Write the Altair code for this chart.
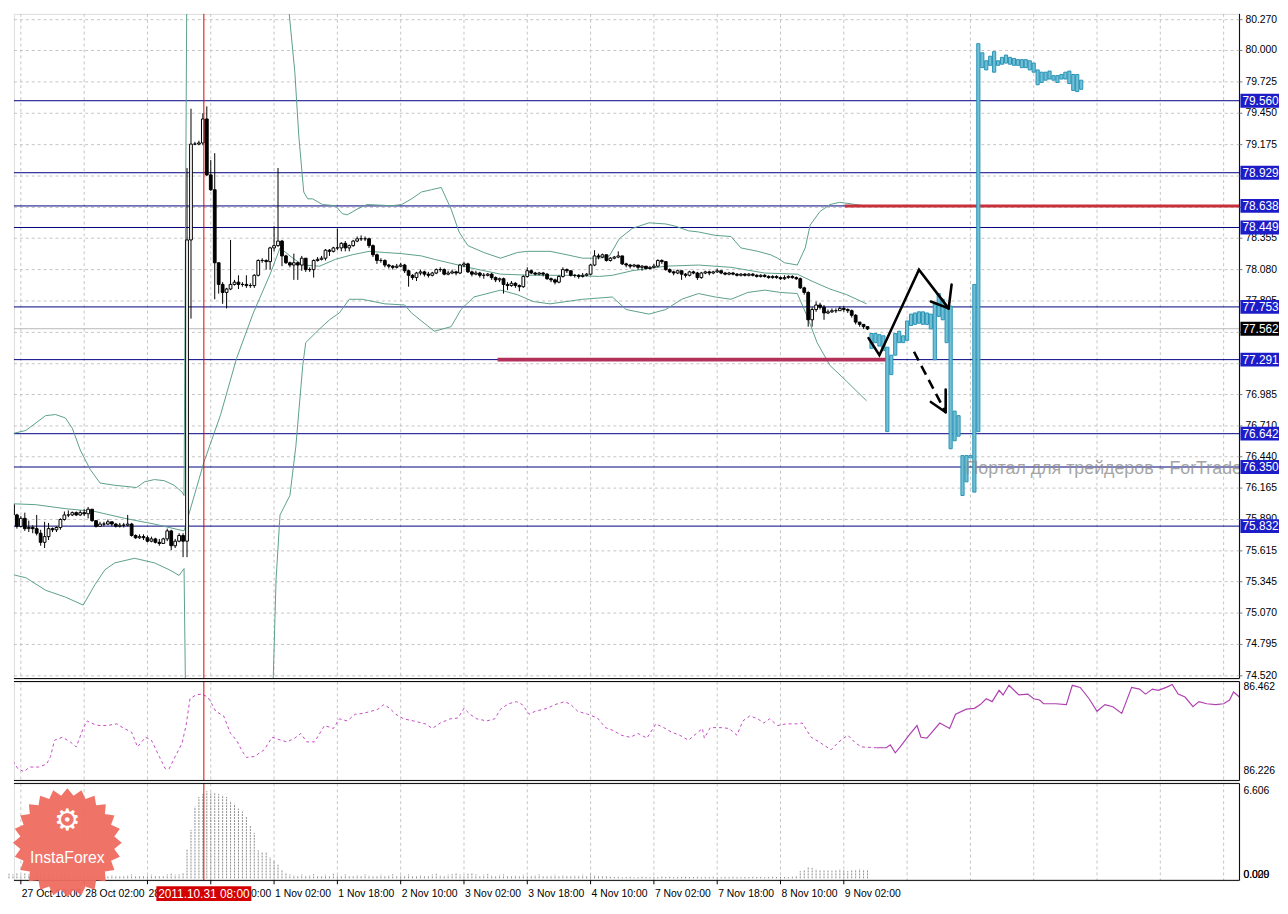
import math
import altair as alt
import pandas as pd

# ---------------- data (x = hourly bar number, y = price) ----------------
tick_bars = [3, 19, 35, 51, 67, 83, 99, 115, 131, 147, 163, 179, 195, 211]
tick_labels = ["27 Oct 10:00", "28 Oct 02:00", "28 Oct 18:00", "31 Oct 10:00",
               "1 Nov 02:00", "1 Nov 18:00", "2 Nov 10:00", "3 Nov 02:00",
               "3 Nov 18:00", "4 Nov 10:00", "7 Nov 02:00", "7 Nov 18:00",
               "8 Nov 10:00", "9 Nov 02:00"]
grid_bars = tick_bars + [227, 243, 259, 275, 291, 307]
price_ticks = [80.270, 80.000, 79.725, 79.450, 79.175, 78.900, 78.625, 78.355, 78.080,
               77.805, 77.530, 77.255, 76.985, 76.710, 76.440, 76.165, 75.890,
               75.615, 75.345, 75.070, 74.795, 74.520]
# tick labels that are fully covered by the level boxes in the original
covered_ticks = [78.900, 78.625, 77.530, 77.255]
level_prices = [79.560, 78.929, 78.638, 78.449, 77.753, 77.291, 76.642, 76.350, 75.832]
bid_price = 77.562
red_level, red_from, red_to = 78.638, 211.25, 311.0
crimson_level, crimson_from, crimson_to = 77.291, 123.5, 221.75
cross_bar = 49.25
cross_label = "2011.10.31 08:00"

first_open = 76.00
c_close = [
    76.02, 75.93, 75.83, 75.90, 75.81, 75.82, 75.81, 75.77, 75.69, 75.74,
    75.81, 75.80, 75.82, 75.89, 75.93, 75.93, 75.95, 75.93, 75.95, 75.94,
    75.98, 75.88, 75.83, 75.85, 75.85, 75.87, 75.85, 75.83, 75.84, 75.84,
    75.85, 75.75, 75.73, 75.74, 75.73, 75.70, 75.72, 75.69, 75.68, 75.72,
    75.79, 75.66, 75.70, 75.75, 75.70, 78.34, 79.18, 79.18, 79.19, 79.40,
    78.91, 78.78, 78.14, 77.95, 77.88, 77.91, 77.95, 77.97, 77.95, 77.95,
    77.94, 77.94, 78.03, 78.16, 78.16, 78.15, 78.27, 78.29, 78.33, 78.20,
    78.14, 78.12, 78.14, 78.12, 78.18, 78.08, 78.08, 78.16, 78.17, 78.18,
    78.25, 78.24, 78.27, 78.27, 78.31, 78.27, 78.29, 78.33, 78.35, 78.35,
    78.35, 78.29, 78.21, 78.16, 78.16, 78.12, 78.11, 78.10, 78.11, 78.12,
    78.07, 78.03, 78.01, 78.05, 78.06, 78.04, 78.03, 78.05, 78.08, 78.08,
    78.04, 78.05, 78.06, 78.05, 78.12, 78.13, 78.06, 78.04, 78.05, 78.03,
    78.03, 78.04, 78.01, 77.99, 78.00, 77.95, 77.94, 77.96, 77.94, 77.93,
    78.02, 78.07, 78.05, 78.04, 78.05, 78.04, 78.00, 77.99, 77.97, 78.02,
    78.08, 78.07, 78.03, 78.03, 78.02, 78.03, 78.04, 78.12, 78.20, 78.19,
    78.21, 78.16, 78.18, 78.19, 78.20, 78.13, 78.12, 78.11, 78.12, 78.10,
    78.11, 78.09, 78.10, 78.11, 78.16, 78.15, 78.08, 78.06, 78.05, 78.07,
    78.04, 78.03, 78.06, 78.05, 78.01, 78.05, 78.06, 78.05, 78.06, 78.07,
    78.05, 78.04, 78.05, 78.04, 78.03, 78.04, 78.03, 78.04, 78.03, 78.02,
    78.03, 78.02, 78.01, 78.02, 78.01, 78.00, 78.01, 78.02, 78.01, 78.00,
    77.92, 77.88, 77.64, 77.73, 77.77, 77.75, 77.70, 77.71, 77.72, 77.72,
    77.74, 77.73, 77.72, 77.68, 77.62, 77.60, 77.58, 77.56]
c_high = [
    76.26, 76.03, 75.94, 75.92, 75.95, 75.88, 75.84, 75.93, 75.80, 75.87,
    75.86, 75.82, 75.83, 75.90, 75.96, 75.97, 75.96, 75.96, 75.97, 75.98,
    76.00, 75.98, 75.88, 75.87, 75.87, 75.89, 75.87, 75.86, 75.86, 75.86,
    75.93, 75.86, 75.76, 75.76, 75.76, 75.75, 75.74, 75.73, 75.72, 75.73,
    75.81, 75.80, 75.72, 75.77, 75.77, 78.97, 79.49, 79.20, 79.21, 79.45,
    79.51, 79.04, 79.10, 78.14, 77.97, 77.92, 78.34, 77.99, 78.03, 77.97,
    78.03, 77.96, 78.04, 78.17, 78.18, 78.17, 78.28, 78.46, 78.97, 78.34,
    78.21, 78.15, 78.22, 78.15, 78.20, 78.18, 78.10, 78.17, 78.19, 78.20,
    78.26, 78.26, 78.28, 78.44, 78.32, 78.33, 78.30, 78.34, 78.37, 78.38,
    78.37, 78.36, 78.30, 78.22, 78.18, 78.17, 78.13, 78.12, 78.13, 78.14,
    78.13, 78.08, 78.04, 78.06, 78.08, 78.07, 78.06, 78.06, 78.09, 78.10,
    78.09, 78.07, 78.08, 78.07, 78.13, 78.15, 78.14, 78.07, 78.07, 78.06,
    78.05, 78.05, 78.05, 78.02, 78.01, 78.01, 77.97, 77.98, 77.97, 77.95,
    78.03, 78.10, 78.08, 78.06, 78.06, 78.06, 78.05, 78.01, 78.00, 78.03,
    78.10, 78.09, 78.07, 78.04, 78.04, 78.05, 78.05, 78.13, 78.25, 78.22,
    78.22, 78.21, 78.19, 78.20, 78.24, 78.20, 78.14, 78.13, 78.13, 78.12,
    78.12, 78.11, 78.11, 78.13, 78.17, 78.17, 78.15, 78.09, 78.07, 78.08,
    78.07, 78.05, 78.07, 78.07, 78.06, 78.06, 78.07, 78.07, 78.07, 78.09,
    78.07, 78.06, 78.06, 78.06, 78.05, 78.05, 78.05, 78.05, 78.05, 78.04,
    78.04, 78.04, 78.03, 78.03, 78.03, 78.02, 78.03, 78.03, 78.03, 78.02,
    78.01, 77.93, 77.89, 77.75, 77.80, 77.79, 77.77, 77.73, 77.74, 77.74,
    77.76, 77.76, 77.74, 77.73, 77.69, 77.62, 77.60, 77.58]
c_low = [
    75.92, 75.92, 75.81, 75.82, 75.79, 75.78, 75.77, 75.75, 75.66, 75.64,
    75.71, 75.78, 75.78, 75.80, 75.88, 75.91, 75.92, 75.92, 75.92, 75.92,
    75.90, 75.87, 75.82, 75.83, 75.83, 75.84, 75.83, 75.82, 75.82, 75.82,
    75.83, 75.74, 75.72, 75.72, 75.71, 75.69, 75.69, 75.68, 75.66, 75.70,
    75.70, 75.62, 75.64, 75.69, 75.56, 75.56, 77.65, 79.17, 79.17, 79.17,
    78.90, 78.77, 77.82, 77.87, 77.78, 77.74, 77.90, 77.94, 77.91, 77.93,
    77.92, 77.92, 77.92, 78.02, 78.14, 78.08, 78.08, 78.24, 78.28, 78.11,
    78.13, 78.10, 77.99, 77.99, 78.07, 78.06, 78.06, 78.01, 78.15, 78.16,
    78.16, 78.20, 78.23, 78.25, 78.24, 78.24, 78.24, 78.28, 78.32, 78.33,
    78.33, 78.27, 78.19, 78.13, 78.14, 78.10, 78.09, 78.08, 78.09, 78.10,
    78.05, 77.93, 77.99, 77.98, 78.03, 78.02, 78.01, 78.02, 78.04, 78.06,
    78.03, 78.03, 78.04, 78.03, 78.04, 78.10, 78.05, 78.02, 78.03, 78.01,
    78.00, 78.02, 77.99, 77.97, 77.97, 77.87, 77.90, 77.93, 77.92, 77.89,
    77.92, 78.01, 78.04, 78.03, 78.03, 78.02, 77.99, 77.97, 77.95, 77.96,
    78.01, 78.05, 78.02, 78.01, 78.00, 78.01, 78.02, 78.03, 78.11, 78.17,
    78.18, 78.15, 78.15, 78.17, 78.18, 78.12, 78.10, 78.09, 78.10, 78.08,
    78.07, 78.08, 78.08, 78.09, 78.10, 78.13, 78.07, 78.05, 78.03, 78.04,
    77.99, 78.01, 78.02, 78.04, 77.99, 78.00, 78.04, 78.03, 78.04, 78.05,
    78.04, 78.03, 78.03, 78.03, 78.02, 78.02, 78.02, 78.02, 78.02, 78.01,
    78.01, 78.01, 78.00, 78.00, 78.00, 77.99, 77.99, 78.00, 78.00, 77.99,
    77.91, 77.86, 77.58, 77.58, 77.71, 77.73, 77.64, 77.69, 77.70, 77.70,
    77.72, 77.71, 77.70, 77.66, 77.60, 77.58, 77.56, 77.55]

cyan_first_bar = 218
cyan_high = [
    77.52, 77.52, 77.51, 77.50, 77.40, 77.33, 77.52, 77.54, 77.50, 77.63,
    77.69, 77.70, 77.71, 77.71, 77.70, 77.69, 77.78, 77.87, 77.82, 77.74,
    77.76, 76.84, 76.80, 76.45, 76.45, 76.45, 77.95, 80.06, 79.98, 79.91,
    79.95, 79.99, 79.91, 79.94, 79.96, 79.94, 79.93, 79.92, 79.92, 79.92,
    79.91, 79.89, 79.83, 79.81, 79.81, 79.82, 79.78, 79.78, 79.79, 79.81,
    79.82, 79.79, 79.79, 79.74]
cyan_low = [
    77.39, 77.44, 77.41, 77.37, 76.66, 77.16, 77.33, 77.44, 77.44, 77.46,
    77.59, 77.60, 77.61, 77.60, 77.60, 77.56, 77.29, 77.67, 77.64, 77.44,
    76.51, 76.58, 76.62, 76.10, 76.22, 76.43, 76.13, 76.66, 79.85, 79.83,
    79.87, 79.81, 79.87, 79.88, 79.89, 79.88, 79.87, 79.87, 79.85, 79.85,
    79.83, 79.81, 79.70, 79.72, 79.74, 79.75, 79.74, 79.72, 79.75, 79.75,
    79.71, 79.65, 79.64, 79.66]

bb_up_bar = [-0.75, 4.25, 9.25, 11.75, 14.25, 16, 18, 20.5, 23, 26.75, 32.25, 34.25, 36.75,
             39.25, 41.75, 43.75, 44.25, 45, 50, 60, 68, 70.75, 72.25, 73.25, 74.5, 75.5,
             76.75, 79.25, 82.5, 84.25, 85.5, 88, 90.5, 96.75, 99.25, 101.75, 104.25,
             106.75, 109.25, 111.75, 113.75, 116, 120, 124.25, 128.5, 131, 136.75, 141,
             145, 149.25, 151.75, 154.25, 157.5, 161.75, 166, 168.5, 171.75, 174.25,
             178.5, 182.5, 185, 189.25, 192.5, 194.25, 196, 199.25, 201.25, 202.5, 205,
             207.5, 210, 216]
bb_up = [76.63, 76.67, 76.80, 76.81, 76.78, 76.69, 76.50, 76.33, 76.21, 76.19, 76.17, 76.22,
         76.24, 76.23, 76.19, 76.13, 76.10, 80.90, 81.30, 81.40, 81.20, 80.35, 79.81, 79.25,
         78.76, 78.70, 78.70, 78.65, 78.64, 78.57, 78.56, 78.61, 78.65, 78.64, 78.65, 78.70,
         78.76, 78.78, 78.80, 78.61, 78.41, 78.29, 78.23, 78.18, 78.23, 78.24, 78.24, 78.21,
         78.18, 78.18, 78.20, 78.35, 78.44, 78.49, 78.48, 78.46, 78.42, 78.41, 78.38, 78.37,
         78.27, 78.24, 78.21, 78.18, 78.14, 78.12, 78.27, 78.47, 78.59, 78.65, 78.67, 78.64]
bb_mid_bar = [-0.75, 6.75, 14.25, 21.75, 29.25, 36.75, 44.25, 49.25, 53.5, 57.5, 61.75, 66,
              68.5, 71.75, 74.25, 78.5, 82.5, 86.75, 91, 95, 99.25, 104.25, 107.5, 116,
              124.25, 132.5, 141, 149.25, 152.5, 157.5, 166, 174.25, 182.5, 191, 199.25,
              203.5, 207.5, 211.75, 216.75]
bb_mid = [76.03, 76.02, 75.985, 75.96, 75.90, 75.85, 75.79, 76.39, 76.81, 77.30, 77.70,
          78.04, 78.27, 78.18, 78.12, 78.11, 78.17, 78.21, 78.24, 78.23, 78.22, 78.20,
          78.17, 78.10, 78.04, 78.03, 78.03, 78.02, 78.03, 78.07, 78.11, 78.12, 78.10,
          78.05, 78.04, 77.97, 77.91, 77.86, 77.78]
bb_low_bar = [-0.75, 1.75, 4.25, 9.25, 14.25, 18.75, 21.75, 24.25, 26.75, 31.75, 36.75, 40.5,
              43, 44.25, 45, 55, 66, 66.75, 67.5, 68.5, 71, 72.5, 74.25, 75, 78.5, 81, 83.5,
              86, 89.25, 95, 100, 101.75, 104.25, 107.5, 111.75, 114.25, 117.5, 124.25,
              128.5, 132.5, 136.75, 145, 152.5, 156, 161.75, 166, 170, 174.25, 178.5, 182.5,
              186.75, 191, 195, 199.25, 201.75, 204.25, 207.5, 211.75, 216.75]
bb_low = [75.43, 75.40, 75.38, 75.27, 75.21, 75.14, 75.32, 75.45, 75.51, 75.55, 75.51, 75.45,
          75.40, 75.46, 73.20, 72.80, 73.80, 74.45, 75.36, 75.93, 76.10, 76.53, 77.24, 77.44,
          77.56, 77.64, 77.70, 77.82, 77.82, 77.78, 77.77, 77.70, 77.63, 77.54, 77.58, 77.73,
          77.84, 77.90, 77.86, 77.80, 77.78, 77.82, 77.84, 77.73, 77.69, 77.73, 77.82, 77.87,
          77.84, 77.82, 77.88, 77.90, 77.88, 77.87, 77.67, 77.44, 77.24, 77.10, 76.93]

# hand-drawn forecast arrows (bar, price)
arrow_seg = ["zig", "zig", "zig", "zig", "h1", "h1", "h2", "h2", "h3", "h3", "h4", "h4"]
arrow_bar = [217.25, 220, 230, 237.5, 233, 237.5, 238.25, 237.5, 233, 236.75, 236.75, 236.75]
arrow_price = [77.48, 77.33, 78.08, 77.74, 77.80, 77.74, 77.95, 77.74, 76.92, 76.83, 77.03, 76.83]
dash_bar = [228.75, 236.75]
dash_price = [77.36, 76.83]

watermark = "Портал для трейдеров - ForTrader.ru"
wm_bar, wm_price = 241.75, 76.33

# lower window 1 indicator
ind_dash_bar = [
    -0.75, 0.75, 2.25, 3.75, 5.25, 7.5, 9.5, 10.5, 11.5, 13.5,
    15.5, 17, 18.75, 19.75, 21.25, 22.75, 24.75, 27.25, 28.75, 31,
    32.5, 34.5, 36, 38, 39.5, 40.5, 42, 43.75, 44.75, 45.75,
    47.25, 48.75, 50.25, 51.25, 52.25, 54.25, 56, 57.5, 59, 60,
    62, 64.5, 66.5, 68.75, 70.25, 72.25, 73.75, 75.25, 77.25, 79.75,
    82, 83.5, 85.5, 87.5, 89.5, 91.5, 93.25, 94.75, 96.25, 97.75,
    99.75, 102.25, 105.25, 107, 109, 111.5, 113.5, 115, 116.5, 118.25,
    120.75, 122.75, 124.25, 126.25, 128.25, 129.75, 131.5, 133, 136, 138,
    140.5, 142, 143.75, 146.25, 148.75, 150.75, 152.75, 154.75, 157, 159,
    161.25, 163.5, 165.5, 167.5, 169.5, 171.75, 173.75, 175.25, 175.75, 177.25,
    180, 182, 184, 185.5, 187.25, 189.25, 190.75, 192.25, 194.25, 196.5,
    199, 200.5, 202.75, 204.75, 207.75, 209.75, 212, 214, 215.5, 219.25]
ind_dash_val = [
    86.295, 86.276, 86.254, 86.247, 86.258, 86.258, 86.265, 86.283, 86.322, 86.329,
    86.318, 86.306, 86.350, 86.368, 86.361, 86.357, 86.357, 86.361, 86.352, 86.341,
    86.306, 86.329, 86.322, 86.283, 86.254, 86.254, 86.283, 86.315, 86.357, 86.421,
    86.430, 86.432, 86.425, 86.409, 86.391, 86.380, 86.338, 86.322, 86.295, 86.281,
    86.283, 86.299, 86.329, 86.322, 86.318, 86.327, 86.338, 86.318, 86.318, 86.357,
    86.350, 86.373, 86.368, 86.384, 86.386, 86.391, 86.396, 86.407, 86.398, 86.384,
    86.373, 86.368, 86.361, 86.350, 86.363, 86.373, 86.375, 86.398, 86.384, 86.373,
    86.368, 86.373, 86.396, 86.409, 86.414, 86.407, 86.384, 86.391, 86.398, 86.407,
    86.414, 86.407, 86.391, 86.384, 86.375, 86.352, 86.345, 86.334, 86.329, 86.338,
    86.327, 86.361, 86.352, 86.341, 86.334, 86.322, 86.338, 86.350, 86.327, 86.352,
    86.352, 86.350, 86.334, 86.368, 86.380, 86.373, 86.363, 86.373, 86.357, 86.361,
    86.361, 86.363, 86.329, 86.318, 86.299, 86.318, 86.334, 86.315, 86.306, 86.304]
ind_solid_bar = [
    219.25, 221.75, 222.75, 224, 225.25, 227.5, 229.5, 230.5, 232, 235.25,
    237.75, 239.25, 242, 244, 245.5, 247, 248.5, 250.25, 251.25, 252.75,
    255.25, 257.5, 259, 260.5, 261.5, 264.5, 267.25, 268.75, 270.75, 273,
    275, 277, 279, 281.25, 283.75, 285.75, 287.25, 289, 290.5, 292.5,
    294, 295.5, 297.25, 299.25, 300.75, 302.75, 305, 307, 308.5, 309.5, 311]
ind_solid_val = [
    86.304, 86.304, 86.311, 86.292, 86.306, 86.334, 86.357, 86.329, 86.327, 86.363,
    86.350, 86.384, 86.396, 86.398, 86.407, 86.421, 86.414, 86.441, 86.430, 86.453,
    86.430, 86.432, 86.421, 86.418, 86.409, 86.409, 86.407, 86.453, 86.448, 86.421,
    86.391, 86.407, 86.402, 86.386, 86.448, 86.444, 86.432, 86.444, 86.441, 86.448,
    86.455, 86.432, 86.425, 86.402, 86.414, 86.409, 86.407, 86.409, 86.418, 86.437, 86.425]
ind_max_label, ind_min_label = "86.462", "86.226"

# lower window 2 histogram (one value per black candle bar)
hist_val = [
    0.35, 0.30, 0.42, 0.25, 0.38, 0.30, 0.22, 0.35, 0.40, 0.28,
    0.33, 0.25, 0.20, 0.30, 0.35, 0.27, 0.22, 0.30, 0.25, 0.20,
    0.32, 0.28, 0.24, 0.20, 0.18, 0.22, 0.26, 0.20, 0.18, 0.22,
    0.25, 0.30, 0.22, 0.18, 0.20, 0.24, 0.28, 0.22, 0.20, 0.18,
    0.30, 0.35, 0.28, 0.30, 0.45,
    2.20, 3.67, 5.43, 6.17, 6.39, 6.606, 6.55, 6.46, 6.39, 6.31,
    6.17, 5.87, 5.65, 5.28, 5.06, 4.70, 3.96, 3.45, 2.13, 1.98,
    1.98, 1.61, 1.39, 1.03, 0.66, 0.37, 0.30, 0.25,
    0.22, 0.30, 0.18, 0.25, 0.32, 0.20, 0.15, 0.28, 0.22, 0.35,
    0.25, 0.18, 0.30, 0.22, 0.16, 0.26, 0.20, 0.30, 0.24, 0.18,
    0.22, 0.28, 0.18, 0.25, 0.32, 0.20, 0.24, 0.18, 0.30, 0.22,
    0.20, 0.26, 0.18, 0.22, 0.30, 0.35, 0.25, 0.20, 0.28, 0.32,
    0.38, 0.30, 0.25, 0.35, 0.40, 0.30, 0.22, 0.28, 0.34, 0.25,
    0.20, 0.26, 0.30, 0.22, 0.18, 0.24, 0.20, 0.28, 0.22, 0.18,
    0.25, 0.30, 0.20, 0.16, 0.24, 0.28, 0.20, 0.26, 0.22, 0.18,
    0.24, 0.20, 0.28, 0.22, 0.30, 0.25, 0.18, 0.20, 0.16, 0.12,
    0.10, 0.12, 0.09, 0.10, 0.12, 0.08, 0.10, 0.12, 0.10, 0.09,
    0.12, 0.10, 0.14, 0.10, 0.12, 0.09, 0.11, 0.10, 0.12, 0.10,
    0.10, 0.12, 0.09, 0.11, 0.10, 0.12, 0.10, 0.09, 0.11, 0.10,
    0.12, 0.10, 0.09, 0.11, 0.10, 0.12, 0.10, 0.11, 0.09, 0.10,
    0.12, 0.10, 0.11, 0.10, 0.09, 0.12, 0.20,
    0.55, 0.62, 0.85, 0.80, 0.70, 0.65, 0.60, 0.62, 0.58, 0.66,
    0.70, 0.62, 0.55, 0.60, 0.68, 0.72, 0.65, 0.60]
hist_top_label, hist_bot_labels = "6.606", ["0.000", "0.029"]

# ---------------- layout / style ----------------
W = 1239
H1, H2, H3 = 672, 100, 98
X_DOM = [1.25, 311.0]
Y1_DOM = [74.496, 80.321]
Y2_DOM = [86.226, 86.462]
Y3_DOM = [-0.15, 7.19]
FONT = "Liberation Sans"
GRID_C = "#c4c4c4"
NAVY = "#000080"
BAND_C = "#5c9f8c"
BOX_BLUE = "#1c1cc8"

xs = alt.Scale(domain=X_DOM, nice=False, zero=False)
y1s = alt.Scale(domain=Y1_DOM, nice=False, zero=False)
y2s = alt.Scale(domain=Y2_DOM, nice=False, zero=False)
y3s = alt.Scale(domain=Y3_DOM, nice=False, zero=False)


def X(f="bar"):
    return alt.X(f"{f}:Q", scale=xs, axis=None, title=None)


def X2(f):
    return alt.X2(f"{f}:Q")


def Y(f, s):
    return alt.Y(f"{f}:Q", scale=s, axis=None, title=None)


def Y1(f="p"):
    return Y(f, y1s)


one = pd.DataFrame({"k": [0]})
vgrid_df = pd.DataFrame({"bar": grid_bars})
cross_df = pd.DataFrame({"bar": [cross_bar]})


def vgrid():
    return alt.Chart(vgrid_df).mark_rule(color=GRID_C, strokeDash=[3, 3], strokeWidth=1).encode(x=X())


def crosshair():
    return alt.Chart(cross_df).mark_rule(color="#e00000", strokeWidth=1).encode(x=X())


def hborder(y):
    return alt.Chart(one).mark_rule(color="black", strokeWidth=1).encode(
        y=alt.value(y), x=alt.value(0), x2=alt.value(W))


def vborder(h):
    return alt.Chart(one).mark_rule(color="black", strokeWidth=1).encode(
        x=alt.value(W), y=alt.value(0), y2=alt.value(h))


# ---------------- main window ----------------
ptick_df = pd.DataFrame({"p": price_ticks, "t": [f"{v:.3f}" for v in price_ticks]})
plab_df = ptick_df[~ptick_df["p"].isin(covered_ticks)]
hgrid = alt.Chart(ptick_df).mark_rule(color=GRID_C, strokeDash=[3, 3], strokeWidth=1).encode(y=Y1())
ptick_marks = alt.Chart(ptick_df).mark_rule(color="#777", strokeWidth=1).encode(
    y=Y1(), x=alt.value(W), x2=alt.value(W + 3))
ptick_text = alt.Chart(plab_df).mark_text(
    align="left", baseline="middle", font=FONT, fontSize=10.5, color="black").encode(
    y=Y1(), x=alt.value(W + 6), text="t:N")

bid_line = alt.Chart(pd.DataFrame({"p": [bid_price]})).mark_rule(
    color="#b8b8b8", strokeWidth=1).encode(y=Y1())
levels = alt.Chart(pd.DataFrame({"p": level_prices})).mark_rule(
    color=NAVY, strokeWidth=1).encode(y=Y1())

bands_df = pd.concat([
    pd.DataFrame({"bar": bb_up_bar, "p": bb_up, "band": "up"}),
    pd.DataFrame({"bar": bb_mid_bar, "p": bb_mid, "band": "mid"}),
    pd.DataFrame({"bar": bb_low_bar, "p": bb_low, "band": "low"}),
])
bands = alt.Chart(bands_df).mark_line(color=BAND_C, strokeWidth=1, clip=True).encode(
    x=X(), y=Y1(), detail="band:N", order="bar:Q")

crimson = alt.Chart(pd.DataFrame({"b0": [crimson_from], "b1": [crimson_to], "p": [crimson_level]})
                    ).mark_rule(color="#b3305a", strokeWidth=4, clip=True).encode(
    x=X("b0"), x2=X2("b1"), y=Y1())
redl = alt.Chart(pd.DataFrame({"b0": [red_from], "b1": [red_to], "p": [red_level]})
                 ).mark_rule(color="#c8303a", strokeWidth=3, clip=True).encode(
    x=X("b0"), x2=X2("b1"), y=Y1())

n = len(c_close)
opens = [first_open] + c_close[:-1]
cdf = pd.DataFrame({"bar": list(range(n)), "o": opens, "c": c_close,
                    "h": c_high[:n], "l": c_low[:n]})
cdf["h"] = cdf[["h", "o", "c"]].max(axis=1)
cdf["l"] = cdf[["l", "o", "c"]].min(axis=1)
BODY = 0.35
cdf["x0"] = cdf["bar"] - BODY
cdf["x1"] = cdf["bar"] + BODY
cdf["fillc"] = ["white" if c >= o else "black" for o, c in zip(cdf["o"], cdf["c"])]

wicks = alt.Chart(cdf).mark_rule(color="black", strokeWidth=1, clip=True).encode(
    x=X(), y=Y1("l"), y2=alt.Y2("h:Q"))
bodies = alt.Chart(cdf).mark_rect(stroke="black", strokeWidth=1, clip=True).encode(
    x=X("x0"), x2=X2("x1"), y=Y1("o"), y2=alt.Y2("c:Q"),
    fill=alt.Fill("fillc:N", scale=None))

m = min(len(cyan_high), len(cyan_low))
cy = pd.DataFrame({"bar": [cyan_first_bar + k for k in range(m)],
                   "h": cyan_high[:m], "l": cyan_low[:m]})
cy["x0"] = cy["bar"] - 0.4
cy["x1"] = cy["bar"] + 0.4
cyan = alt.Chart(cy).mark_rect(fill="#72c0d6", stroke="#2893b5", strokeWidth=1, clip=True).encode(
    x=X("x0"), x2=X2("x1"), y=Y1("l"), y2=alt.Y2("h:Q"))

arr_df = pd.DataFrame({"seg": arrow_seg, "bar": arrow_bar, "p": arrow_price,
                       "ord": list(range(len(arrow_seg)))})
arrows = alt.Chart(arr_df).mark_line(color="black", strokeWidth=2.6, strokeCap="round").encode(
    x=X(), y=Y1(), detail="seg:N", order="ord:Q")
dashed = alt.Chart(pd.DataFrame({"bar": dash_bar, "p": dash_price})).mark_line(
    color="black", strokeWidth=2.6, strokeDash=[10, 6]).encode(x=X(), y=Y1())

wm = alt.Chart(pd.DataFrame({"bar": [wm_bar], "p": [wm_price], "t": [watermark]})).mark_text(
    align="left", baseline="middle", font=FONT, fontSize=18, color="#8f8f8f", opacity=0.8,
    clip=True).encode(x=X(), y=Y1(), text="t:N")

BOX_HALF = 7.0 * (Y1_DOM[1] - Y1_DOM[0]) / H1
box_df = pd.DataFrame({
    "p": level_prices + [bid_price],
    "label": [f"{v:.3f}" for v in level_prices] + [f"{bid_price:.3f}"],
    "bg": [BOX_BLUE] * len(level_prices) + ["#000000"],
})
box_df["top"] = box_df["p"] + BOX_HALF
box_df["bot"] = box_df["p"] - BOX_HALF
boxes = alt.Chart(box_df).mark_rect().encode(
    x=alt.value(W + 1), x2=alt.value(W + 40), y=Y1("bot"), y2=alt.Y2("top:Q"),
    fill=alt.Fill("bg:N", scale=None))
box_text = alt.Chart(box_df).mark_text(align="left", baseline="middle", font=FONT,
                                       fontSize=12, color="white").encode(
    x=alt.value(W + 3), y=Y1(), text="label:N")

main = alt.layer(
    hgrid, vgrid(), bid_line, levels, bands, crimson, redl, wicks, bodies, cyan,
    crosshair(), arrows, dashed, wm, hborder(H1), vborder(H1), ptick_marks, ptick_text,
    boxes, box_text
).properties(width=W, height=H1)

# ---------------- indicator window ----------------
ind_d = pd.DataFrame({"bar": ind_dash_bar, "v": ind_dash_val})
ind_s = pd.DataFrame({"bar": ind_solid_bar, "v": ind_solid_val})
ind_dash = alt.Chart(ind_d).mark_line(color="#c24ac2", strokeWidth=1, strokeDash=[3, 3],
                                      clip=True).encode(x=X(), y=Y("v", y2s))
ind_sol = alt.Chart(ind_s).mark_line(color="#b040b0", strokeWidth=1.2, clip=True).encode(
    x=X(), y=Y("v", y2s))
lab_top = alt.Chart(pd.DataFrame({"v": [float(ind_max_label)], "t": [ind_max_label]})).mark_text(
    align="left", baseline="top", dy=1, font=FONT, fontSize=10.5, color="black").encode(
    x=alt.value(W + 4), y=Y("v", y2s), text="t:N")
lab_bot = alt.Chart(pd.DataFrame({"v": [float(ind_min_label)], "t": [ind_min_label]})).mark_text(
    align="left", baseline="bottom", dy=-5, font=FONT, fontSize=10.5, color="black").encode(
    x=alt.value(W + 4), y=Y("v", y2s), text="t:N")

panel2 = alt.layer(
    vgrid(), ind_dash, ind_sol, crosshair(), hborder(0), hborder(H2), vborder(H2),
    lab_top, lab_bot
).properties(width=W, height=H2)

# ---------------- histogram window ----------------
hdf = pd.DataFrame({"bar": list(range(len(hist_val))), "v": hist_val, "z": 0.0})
hist = alt.Chart(hdf).mark_rule(color="#8e8e8e", strokeWidth=1, strokeDash=[2, 1]).encode(
    x=X(), y=Y("z", y3s), y2=alt.Y2("v:Q"))

h_top = alt.Chart(pd.DataFrame({"v": [float(hist_top_label)], "t": [hist_top_label]})).mark_text(
    align="left", baseline="middle", font=FONT, fontSize=10.5, color="black").encode(
    x=alt.value(W + 4), y=Y("v", y3s), text="t:N")
h_bot = alt.Chart(pd.DataFrame({"v": [0.0, 0.0], "t": hist_bot_labels})).mark_text(
    align="left", baseline="middle", dy=-3, font=FONT, fontSize=10.5, color="black").encode(
    x=alt.value(W + 4), y=Y("v", y3s), text="t:N")

xt_df = pd.DataFrame({"bar": tick_bars, "t": tick_labels})
xticks = alt.Chart(xt_df).mark_rule(color="black", strokeWidth=1).encode(
    x=X(), y=alt.value(H3), y2=alt.value(H3 + 4))
xlabels = alt.Chart(xt_df).mark_text(
    align="left", baseline="middle", dx=1, font=FONT, fontSize=10.5, color="black").encode(
    x=X(), y=alt.value(H3 + 14), text="t:N")

cb = pd.DataFrame({"bar": [cross_bar], "b0": [cross_bar - 12], "b1": [cross_bar + 12],
                   "t": [cross_label]})
cross_box = alt.Chart(cb).mark_rect(color="#d40000").encode(
    x=X("b0"), x2=X2("b1"), y=alt.value(H3 + 6), y2=alt.value(H3 + 21))
cross_txt = alt.Chart(cb).mark_text(align="center", baseline="middle", font=FONT, fontSize=12,
                                    color="white").encode(
    x=X(), y=alt.value(H3 + 13.5), text="t:N")

# InstaForex badge
pts = []
NP = 24
for k in range(2 * NP):
    r = 1.0 if k % 2 == 0 else 0.87
    a = math.pi * k / NP
    pts.append(f"{r * math.sin(a):.4f},{-r * math.cos(a):.4f}")
star_path = "M" + " L".join(pts) + " Z"
badge = alt.Chart(one).mark_point(shape=star_path, size=110 * 110, filled=True,
                                  color="#ef6b60", opacity=0.95, strokeWidth=0).encode(
    x=alt.value(54), y=alt.value(60))
badge_icon = alt.Chart(pd.DataFrame({"t": ["\u2699"]})).mark_text(
    font="DejaVu Sans", fontSize=30, color="white", align="center", baseline="middle").encode(
    x=alt.value(54), y=alt.value(38), text="t:N")
badge_txt = alt.Chart(pd.DataFrame({"t": ["InstaForex"]})).mark_text(
    font=FONT, fontSize=16, color="white", align="center", baseline="middle").encode(
    x=alt.value(54), y=alt.value(75), text="t:N")

panel3 = alt.layer(
    vgrid(), hist, crosshair(), hborder(0), hborder(H3), vborder(H3), h_top, h_bot,
    xticks, xlabels, badge, badge_icon, badge_txt, cross_box, cross_txt
).properties(width=W, height=H3)

chart = alt.vconcat(main, panel2, panel3).properties(
    spacing=3, bounds="flush", padding=0
).configure_view(stroke=None).configure(background="white")

chart.save("out.html", embed_options={"renderer": "svg", "actions": False})
